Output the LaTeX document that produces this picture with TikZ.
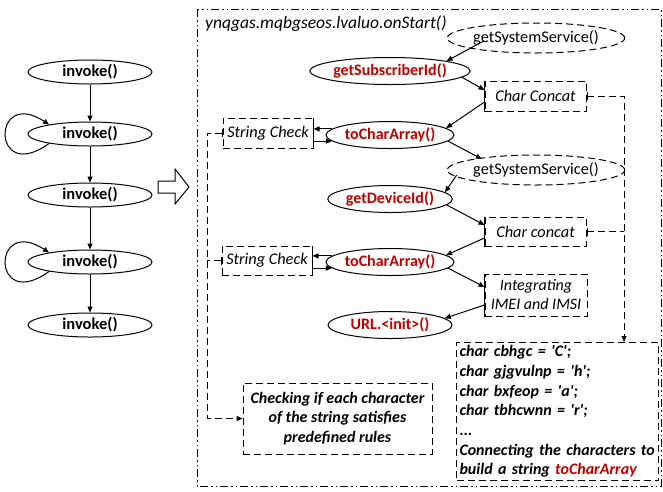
\documentclass[tikz,border=0pt]{standalone}
\usepackage{fontspec}
\setmainfont{Carlito}
\usetikzlibrary{shapes.geometric,arrows.meta,calc}
\definecolor{darkred}{RGB}{192,0,0}
\begin{document}
\begin{tikzpicture}[x=1pt,y=-1pt,
  every node/.style={font=\fontsize{16}{19}\selectfont},
  inv/.style={ellipse,draw,line width=1pt,inner sep=0pt,minimum width=124pt,minimum height=24pt,font=\fontsize{16.5}{19}\selectfont\bfseries},
  redell/.style={inv,minimum height=27pt,text=darkred,font=\fontsize{16}{19}\selectfont\bfseries},
  dashell/.style={ellipse,draw,line width=1pt,dash pattern=on 7pt off 4pt,inner sep=0pt,minimum width=148pt,minimum height=30pt,font=\fontsize{16.3}{19}\selectfont},
  dbox/.style={rectangle,draw,line width=1pt,dash pattern=on 7pt off 4pt,inner sep=0pt,font=\fontsize{16.3}{19}\selectfont\itshape},
  bibox/.style={dbox,font=\fontsize{16}{19.7}\selectfont\bfseries\itshape},
  arr/.style={line width=1pt,-{Triangle[length=6pt,width=5pt]}},
  dline/.style={line width=1pt,dash pattern=on 7pt off 4pt},
  frame/.style={line width=1pt,dash pattern=on 8pt off 3pt on 1.5pt off 3pt on 1.5pt off 3pt},
]
\useasboundingbox (0,0) rectangle (663,491);

% left column
\node[inv] (i1) at (90,72) {invoke()};
\node[inv] (i2) at (90,134) {invoke()};
\node[inv] (i3) at (90,195) {invoke()};
\node[inv] (i4) at (90,262) {invoke()};
\node[inv] (i5) at (90,325) {invoke()};
\draw[arr] (i1) -- (i2);
\draw[arr] (i2) -- (i3);
\draw[arr] (i3) -- (i4);
\draw[arr] (i4) -- (i5);
\draw[arr] (i2.193) .. controls +(-58,42) and +(-58,-38) .. (i2.167);
\draw[arr] (i4.193) .. controls +(-58,42) and +(-58,-38) .. (i4.167);

% hollow arrow
\draw[line width=1pt] (158,181) -- (175,181) -- (175,169) -- (189,187) -- (175,204) -- (175,193) -- (158,193) -- cycle;

% frame
\draw[frame] (197,9) rectangle (661,486);
\node[anchor=west,inner sep=0pt,font=\fontsize{17.5}{20}\selectfont\itshape] (title) at (205,24) {ynqgas.mqbgseos.lvaluo.onStart()};

% right nodes
\node[dashell] (gs1) at (536,38) {getSystemService()};
\node[redell] (gsi) at (390,71) {getSubscriberId()};
\node[dbox,minimum width=101pt,minimum height=30pt] (cc1) at (535.5,96) {Char Concat};
\node[redell] (t1) at (390,135) {toCharArray()};
\node[dbox,minimum width=90pt,minimum height=30pt] (sc1) at (268,133) {String Check};
\node[dashell] (gs2) at (536,170) {getSystemService()};
\node[redell] (gdi) at (390,199) {getDeviceId()};
\node[dbox,minimum width=101pt,minimum height=29pt] (cc2) at (535.5,231.5) {Char concat};
\node[redell] (t2) at (390,262) {toCharArray()};
\node[dbox,minimum width=90pt,minimum height=29pt] (sc2) at (267,260.5) {String Check};
\node[dbox,minimum width=102pt,minimum height=42pt,align=center,font=\fontsize{16}{19}\selectfont\itshape] (int) at (536,295) {Integrating\\IMEI and IMSI};
\node[redell] (url) at (390,325) {URL.<init>()};
\node[bibox,minimum width=189pt,minimum height=71pt,align=center] (chk) at (337.5,418.5) {Checking if each character\\of the string satisfies\\predefined rules};
\node[bibox,anchor=north west,text width=196pt,inner xsep=3pt,inner ysep=3pt,minimum height=138pt,align=left] (chr) at (456,342) {char cbhgc = \textquotesingle C\textquotesingle;\\char gjgvulnp = \textquotesingle h\textquotesingle;\\char bxfeop = \textquotesingle a\textquotesingle;\\char tbhcwnn = \textquotesingle r\textquotesingle;\\...\\Connecting the characters to\\build a string \textcolor{darkred}{toCharArray}};

% solid edges
\draw[line width=1pt] (cc1.north west) -- (cc1.south west);
\draw[line width=1pt] (cc2.north west) -- (cc2.south west);
\draw[line width=1pt] (int.north west) -- (int.south west);
\draw[line width=1pt] (sc1.north east) -- (sc1.south east);
\draw[line width=1pt] (sc2.north east) -- (sc2.south east);

% flow arrows
\draw[arr] ([xshift=11pt,yshift=8pt]gs1.south west) -- (gsi.10);
\draw[arr] (gsi.-5) -- ([yshift=6pt]cc1.west);
\draw[arr] ([yshift=-6pt]cc1.west) -- (t1.7);
\draw[arr] (t1.-6) -- ([xshift=9pt]gs2.north west);
\draw[arr] ([xshift=10pt,yshift=-5pt]gs2.west) -- (gdi.7);
\draw[arr] (gdi.-6) -- ([yshift=6.5pt]cc2.west);
\draw[arr] ([yshift=-6.5pt]cc2.west) -- (t2.7);
\draw[arr] (t2.-6) -- ([yshift=8pt]int.west);
\draw[arr] ([yshift=-10pt]int.west) -- (url.7);

\draw[arr] (t1.174) -- (t1.174 -| sc1.east);
\draw[arr] (t1.186 -| sc1.east) -- (t1.186);
\draw[arr] (t2.174) -- (t2.174 -| sc2.east);
\draw[arr] (t2.186 -| sc2.east) -- (t2.186);

% buses
\coordinate (bus) at (207,133);
\coordinate (rbus) at (624,96);
\draw[dline,{Bar[width=8pt]}-{Triangle[length=6pt,width=5pt]}] (sc1.west) -- (sc1.west -| bus) -- (bus |- chk.west) -- (chk.west);
\draw[dline,{Bar[width=8pt]}-] (sc2.west) -- (sc2.west -| bus);
\draw[dline,{Bar[width=8pt]}-{Triangle[length=6pt,width=5pt]}] (cc1.east) -- (cc1.east -| rbus) -- (rbus |- chr.north);
\draw[dline,{Bar[width=8pt]}-] (cc2.east) -- (cc2.east -| rbus);
\end{tikzpicture}
\end{document}
